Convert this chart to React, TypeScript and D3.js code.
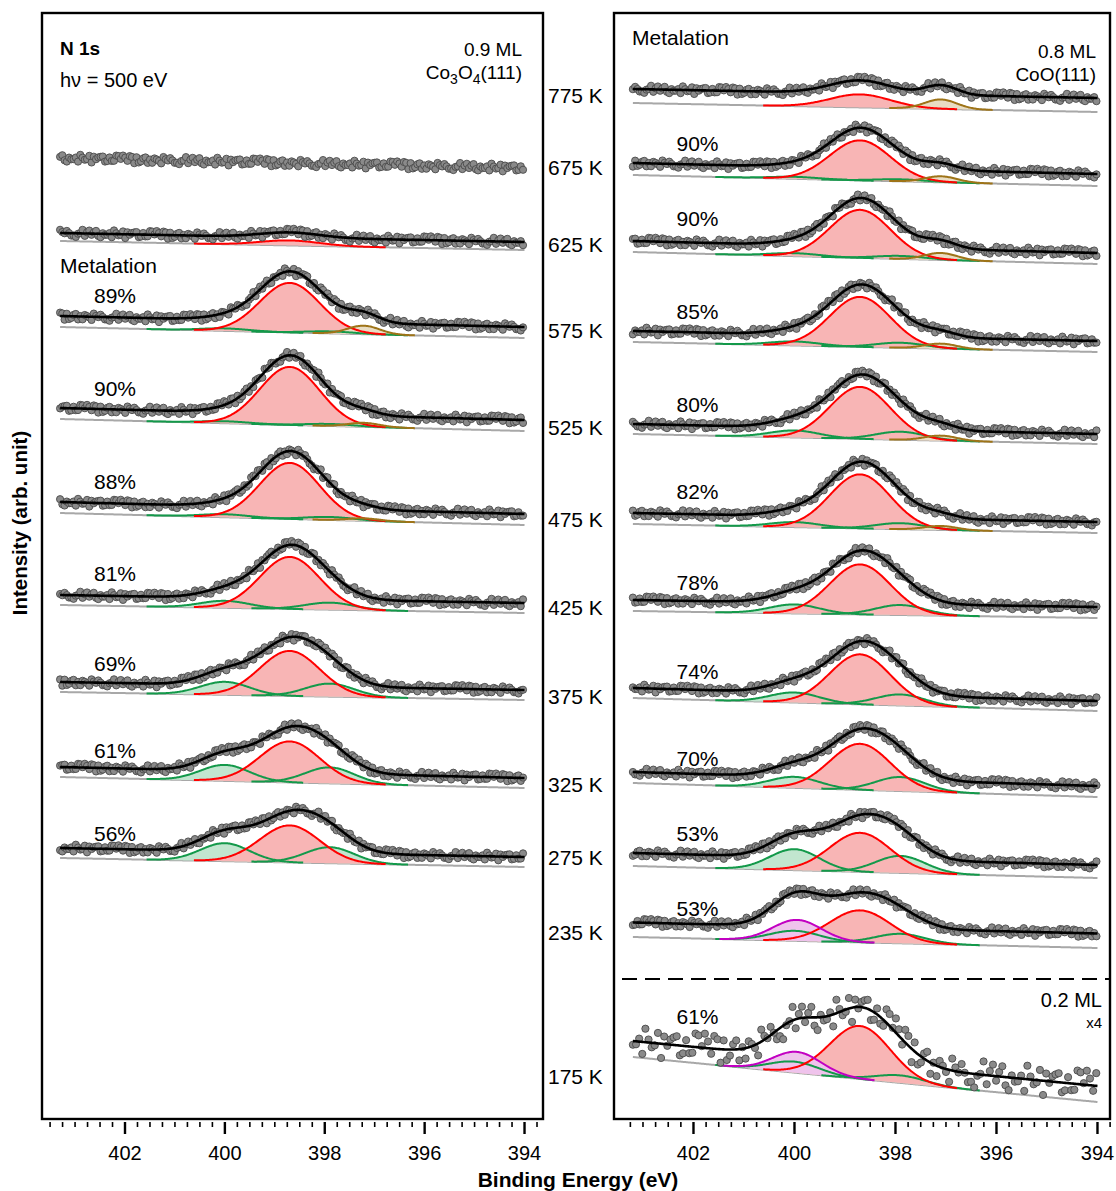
import React from "react";
import * as d3 from "d3";

// ---------- data ----------
// fixed hand-typed scatter pattern (relative to the fit envelope, in units of the row's noise level)
const NOISE = [0.3, -0.7, 0.9, -0.2, 0.5, -0.9, 0.1, 0.7, -0.4, 0.2, -0.8, 0.6, -0.1, 0.95, -0.55, 0.35, -0.3, 0.8, -0.65, 0.05, 0.45, -0.85, 0.6, -0.15, 0.25, -0.5, 0.9, -0.35, 0.15, -0.75, 0.7, -0.05, 0.4, -0.6, 0.85, -0.25, 0.1, -0.95, 0.55, -0.45, 0.3, 0.65, -0.2, -0.7, 0.5, 0.0, -0.4, 0.75, -0.9, 0.2, 0.4, -0.1, -0.6, 0.9, -0.3, 0.6, -0.8, 0.15, 0.35, -0.55, 0.8];

// peak positions (eV) and widths (sigma, eV)
const POS_RED = 398.7;
const POS_GREEN_HI = 400.0;
const POS_GREEN_LO = 397.9;
const POS_BROWN_L = 397.22;
const POS_BROWN_R = 397.1;
const POS_MAGENTA = 399.95;
const SIG_RED = 0.6;
const SIG_GREEN = 0.49;
const SIG_BROWN = 0.32;
const SIG_MAGENTA = 0.48;

const E_START_LEFT = 403.3;
const E_START_RIGHT = 403.2;
const E_END = 394.0;

// Left panel: 0.9 ML on Co3O4(111)
const LEFT_TEMPS = ["675 K", "625 K", "575 K", "525 K", "475 K", "425 K", "375 K", "325 K", "275 K"];
const LEFT_METAL = ["", "", "89%", "90%", "88%", "81%", "69%", "61%", "56%"];
const LEFT_HAS_FIT = [false, true, true, true, true, true, true, true, true];
const LEFT_BG_START = [961, 878, 792, 700, 606, 514, 427, 342, 261];
const LEFT_BG_END = [951, 869, 781, 688, 594, 506, 419, 331, 252];
const LEFT_GAP = [0, 8, 11, 11, 11, 10, 10, 10, 10];
const LEFT_RED_AMP = [0, 5, 49.5, 58, 56, 52, 45, 41, 37];
const LEFT_GREEN_HI_AMP = [0, 0, 2.5, 2, 3, 7, 13, 16, 18];
const LEFT_GREEN_LO_AMP = [0, 0, 2, 2, 3, 7, 13, 16, 16];
const LEFT_BROWN_AMP = [0, 0, 8.5, 4, 2.5, 0, 0, 0, 0];
const LEFT_MAGENTA_AMP = [0, 0, 0, 0, 0, 0, 0, 0, 0];
const LEFT_NOISE = [4, 4, 4, 4, 4, 4, 4, 4, 4];

// Right panel: 0.8 ML on CoO(111) (last row 0.2 ML, x4)
const RIGHT_TEMPS = ["775 K", "675 K", "625 K", "575 K", "525 K", "475 K", "425 K", "375 K", "325 K", "275 K", "235 K", "175 K"];
const RIGHT_METAL = ["", "90%", "90%", "85%", "80%", "82%", "78%", "74%", "70%", "53%", "53%", "61%"];
const RIGHT_HAS_FIT = [true, true, true, true, true, true, true, true, true, true, true, true];
const RIGHT_BG_START = [1016, 944, 867, 777, 685, 595, 508, 421, 336, 253, 182, 62];
const RIGHT_BG_END = [1007, 933, 855, 767, 675, 586, 501, 408, 322, 241, 171, 17];
const RIGHT_GAP = [14, 12, 11, 11, 10, 11, 11, 10, 11, 13, 14.5, 16];
const RIGHT_RED_AMP = [13, 40, 48, 50, 52, 54, 50, 50, 46, 39, 32, 53];
const RIGHT_GREEN_HI_AMP = [0, 2, 3, 4, 7, 5, 9, 10, 11, 21, 10, 11];
const RIGHT_GREEN_LO_AMP = [0, 2, 3, 5, 8, 6, 10, 11, 14, 17, 9.5, 7.5];
const RIGHT_BROWN_AMP = [9.5, 6, 7, 5, 5, 4, 0, 0, 0, 0, 0, 0];
const RIGHT_MAGENTA_AMP = [0, 0, 0, 0, 0, 0, 0, 0, 0, 0, 21, 21];
const RIGHT_NOISE = [4, 4, 4, 4, 4, 4, 4, 4, 4, 4, 4, 15];

const X_TICKS = [402, 400, 398, 396, 394];

// ---------- layout ----------
const W = 1116;
const H = 1191;
const FRAME_TOP = 13;
const FRAME_BOTTOM = 1119;
const FONT = "'Liberation Sans', Arial, Helvetica, sans-serif";
const TEMP_LABEL_Y = [95, 167, 244, 330, 427, 519, 607, 696, 784, 857, 932, 1076];
const LEFT_LABEL_Y = [0, 0, 295, 388, 481, 573, 663, 750, 833];
const RIGHT_LABEL_Y = [0, 143, 218, 311, 404, 491, 582, 671, 758, 833, 908, 1016];

const COLORS: Record<string, { line: string; fill: string }> = {
  green: { line: "#13994a", fill: "#c2e6cf" },
  red: { line: "#ff0000", fill: "#f8b5b5" },
  brown: { line: "#9e7418", fill: "#e9ddc3" },
  magenta: { line: "#c200c2", fill: "#efc3ec" },
};

type Comp = { kind: string; c: number; a: number; s: number };
type Spec = {
  temp: string;
  metal: string;
  hasFit: boolean;
  bgS: number;
  bgE: number;
  gap: number;
  comps: Comp[];
  noise: number;
  eStart: number;
  step: number;
};

function buildRows(
  temps: string[], metal: string[], hasFit: boolean[], bgS: number[], bgE: number[], gap: number[],
  red: number[], gHi: number[], gLo: number[], brown: number[], mag: number[], noise: number[],
  brownPos: number, eStart: number
): Spec[] {
  return temps.map((t, i) => {
    const comps: Comp[] = [];
    if (gHi[i] > 0) comps.push({ kind: "green", c: POS_GREEN_HI, a: gHi[i], s: SIG_GREEN });
    if (gLo[i] > 0) comps.push({ kind: "green", c: POS_GREEN_LO, a: gLo[i], s: SIG_GREEN });
    if (red[i] > 0) comps.push({ kind: "red", c: POS_RED, a: red[i], s: SIG_RED });
    if (brown[i] > 0) comps.push({ kind: "brown", c: brownPos, a: brown[i], s: SIG_BROWN });
    if (mag[i] > 0) comps.push({ kind: "magenta", c: POS_MAGENTA, a: mag[i], s: SIG_MAGENTA });
    return {
      temp: t, metal: metal[i], hasFit: hasFit[i], bgS: bgS[i], bgE: bgE[i], gap: gap[i], comps,
      noise: noise[i], eStart, step: noise[i] > 8 ? 0.062 : 0.045,
    };
  });
}

const leftRows = buildRows(LEFT_TEMPS, LEFT_METAL, LEFT_HAS_FIT, LEFT_BG_START, LEFT_BG_END, LEFT_GAP,
  LEFT_RED_AMP, LEFT_GREEN_HI_AMP, LEFT_GREEN_LO_AMP, LEFT_BROWN_AMP, LEFT_MAGENTA_AMP, LEFT_NOISE, POS_BROWN_L, E_START_LEFT);
const rightRows = buildRows(RIGHT_TEMPS, RIGHT_METAL, RIGHT_HAS_FIT, RIGHT_BG_START, RIGHT_BG_END, RIGHT_GAP,
  RIGHT_RED_AMP, RIGHT_GREEN_HI_AMP, RIGHT_GREEN_LO_AMP, RIGHT_BROWN_AMP, RIGHT_MAGENTA_AMP, RIGHT_NOISE, POS_BROWN_R, E_START_RIGHT);

const gauss = (e: number, c: Comp) => c.a * Math.exp(-((e - c.c) ** 2) / (2 * c.s * c.s));
const bgAt = (s: Spec, e: number) => s.bgS + ((s.bgE - s.bgS) * (s.eStart - e)) / (s.eStart - E_END);
const fitAt = (s: Spec, e: number) => bgAt(s, e) + s.gap + s.comps.reduce((acc, c) => acc + gauss(e, c), 0);

const yScale = d3.scaleLinear().domain([0, 1107]).range([FRAME_BOTTOM, 12]);

function Panel({ rows, x, x0, x1, rowOffset, labelE, labelY }: {
  rows: Spec[]; x: d3.ScaleLinear<number, number>; x0: number; x1: number; rowOffset: number; labelE: number; labelY: number[];
}) {
  const minor = d3.range(403.5, 393.6, -0.25).filter((v) => x(v) >= x0 + 4 && x(v) <= x1 + 1);
  const order = ["green", "red", "brown", "magenta"];
  return (
    <g>
      {rows.map((s, ri) => {
        const es = d3.range(s.eStart, E_END - 1e-6, -0.02).concat([E_END]);
        const bgLine = d3.line<number>().x((e) => x(e)).y((e) => yScale(bgAt(s, e)));
        const fitLine = d3.line<number>().x((e) => x(e)).y((e) => yScale(fitAt(s, e)));
        const dotsE = d3.range(s.eStart, E_END - 1e-6, -s.step);
        const comps = s.comps.map((c, ci) => {
          const lo = Math.max(E_END, c.c - 3.2 * c.s);
          const hi = Math.min(s.eStart, c.c + 3.2 * c.s);
          const ce = d3.range(hi, lo, -0.02).concat([lo]);
          const area = d3.area<number>().x((e) => x(e)).y0((e) => yScale(bgAt(s, e))).y1((e) => yScale(bgAt(s, e) + gauss(e, c)));
          const line = d3.line<number>().x((e) => x(e)).y((e) => yScale(bgAt(s, e) + gauss(e, c)));
          return { key: ci, kind: c.kind, area: area(ce) || "", line: line(ce) || "" };
        });
        const sorted = [...comps].sort((a, b) => order.indexOf(a.kind) - order.indexOf(b.kind));
        return (
          <g key={ri}>
            {s.hasFit && <path d={bgLine(es) || ""} fill="none" stroke="#a8a8a8" strokeWidth={2} />}
            {sorted.map((c) => (
              <path key={"f" + c.key} d={c.area} fill={COLORS[c.kind].fill} stroke="none" />
            ))}
            {sorted.map((c) => (
              <path key={"l" + c.key} d={c.line} fill="none" stroke={COLORS[c.kind].line} strokeWidth={2} />
            ))}
            {dotsE.map((e, i) => (
              <circle
                key={i}
                cx={x(e)}
                cy={yScale(fitAt(s, e) + NOISE[(i * 7 + (ri + rowOffset) * 17) % NOISE.length] * s.noise)}
                r={3.6}
                fill="#8a8a8a"
                stroke="#4a4a4a"
                strokeWidth={0.9}
              />
            ))}
            {s.hasFit && <path d={fitLine(es) || ""} fill="none" stroke="#000" strokeWidth={2.6} />}
            {s.metal && (
              <text x={x(labelE)} y={labelY[ri] + 7.5} textAnchor="middle" fontSize={21} fontFamily={FONT}>
                {s.metal}
              </text>
            )}
          </g>
        );
      })}
      <rect x={x0} y={FRAME_TOP} width={x1 - x0} height={FRAME_BOTTOM - FRAME_TOP} fill="none" stroke="#000" strokeWidth={2.4} />
      {minor.map((v) => {
        const major = X_TICKS.some((t) => Math.abs(t - v) < 1e-6);
        return (
          <line key={v} x1={x(v)} x2={x(v)} y1={1122} y2={major ? 1134 : 1127} stroke="#000" strokeWidth={major ? 2.4 : 1.6} />
        );
      })}
      {X_TICKS.map((t) => (
        <text key={t} x={x(t)} y={1160} textAnchor="middle" fontSize={20} fontFamily={FONT}>
          {t}
        </text>
      ))}
    </g>
  );
}

export default function App() {
  const xLeft = d3.scaleLinear().domain([403.662, 393.63]).range([42, 543]);
  const xRight = d3.scaleLinear().domain([403.574, 393.752]).range([614, 1110]);
  return (
    <svg width={W} height={H} style={{ position: "absolute", left: 0, top: 0, background: "#fff" }} fontFamily={FONT}>
      <rect x={0} y={0} width={W} height={H} fill="#fff" />
      <Panel rows={leftRows} x={xLeft} x0={42} x1={543} rowOffset={0} labelE={402.2} labelY={LEFT_LABEL_Y} />
      <Panel rows={rightRows} x={xRight} x0={614} x1={1110} rowOffset={9} labelE={401.92} labelY={RIGHT_LABEL_Y} />

      {/* left panel annotations */}
      <text x={60} y={55} fontSize={19} fontWeight="bold">N 1s</text>
      <text x={60} y={87} fontSize={20}>hν = 500 eV</text>
      <text x={522} y={56} fontSize={19} textAnchor="end">0.9 ML</text>
      <text x={522} y={79} fontSize={19} textAnchor="end">
        Co<tspan dy={5} fontSize={14}>3</tspan>
        <tspan dy={-5}>O</tspan>
        <tspan dy={5} fontSize={14}>4</tspan>
        <tspan dy={-5}>(111)</tspan>
      </text>
      <text x={60} y={272.5} fontSize={21}>Metalation</text>

      {/* right panel annotations */}
      <text x={632} y={45} fontSize={21}>Metalation</text>
      <text x={1096} y={58} fontSize={19} textAnchor="end">0.8 ML</text>
      <text x={1096} y={81} fontSize={19} textAnchor="end">CoO(111)</text>
      <line x1={622} x2={1110} y1={979} y2={979} stroke="#000" strokeWidth={2.2} strokeDasharray="15 8" />
      <text x={1102} y={1007} fontSize={20} textAnchor="end">0.2 ML</text>
      <text x={1102} y={1028} fontSize={15} textAnchor="end">x4</text>

      {/* temperatures */}
      {RIGHT_TEMPS.map((t, i) => (
        <text key={t} x={548} y={TEMP_LABEL_Y[i] + 7.5} fontSize={21}>
          {t}
        </text>
      ))}

      {/* axis titles */}
      <text x={578} y={1187} textAnchor="middle" fontSize={21} fontWeight="bold">
        Binding Energy (eV)
      </text>
      <text transform="translate(27,523) rotate(-90)" textAnchor="middle" fontSize={20.5} fontWeight="bold">
        Intensity (arb. unit)
      </text>
    </svg>
  );
}
